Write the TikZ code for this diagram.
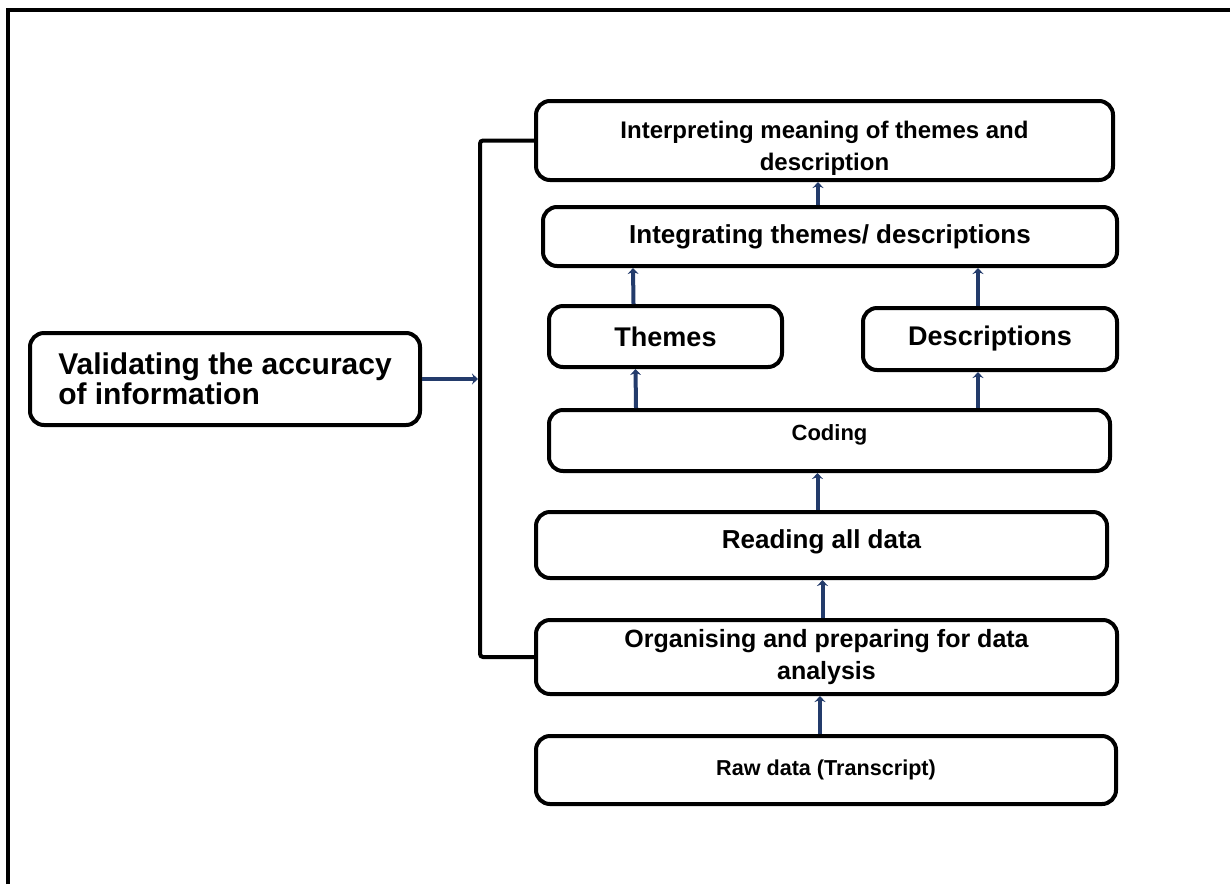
\documentclass[tikz,border=0pt]{standalone}
\usepackage{fontspec}
\setmainfont{Liberation Sans}
\usetikzlibrary{arrows.meta}
\definecolor{arrownavy}{HTML}{233B6B}
\newcommand\boxfnt[1]{\fontsize{#1}{32}\selectfont\bfseries}

\begin{document}
\begin{tikzpicture}[x=1pt,y=-1pt,>={Stealth[length=6pt,width=11pt]},
                    box/.style={draw,line width=4pt,rounded corners=14pt,
                      align=center,inner sep=0pt,font=\boxfnt{26}},
                    flow/.style={->,draw=arrownavy,fill=arrownavy,line width=4pt}]

  \useasboundingbox (0,0) rectangle (1230,884);
  \draw[line width=4pt] (8,884) -- (8,10) -- (1230,10);

  \node[box,minimum width=577pt,minimum height=79pt,font=\boxfnt{24}] (interp) at (824.5,140.5)
       {\rule{0pt}{32pt}Interpreting meaning of themes and\\description};
  \node[box,minimum width=574pt,minimum height=59pt] (integ)   at (830,236.5)
       {Integrating themes/ descriptions};
  \node[box,minimum width=233pt,minimum height=61pt,font=\boxfnt{27}] (themes)  at (665.5,336.5)
       {Themes};
  \node[box,minimum width=254pt,minimum height=62pt,font=\boxfnt{27}] (descr)   at (990,339)
       {Descriptions};
  \node[box,minimum width=561pt,minimum height=61pt,text depth=16pt,font=\boxfnt{22}] (coding) at (829.5,440.5)
       {Coding};
  \node[box,minimum width=571pt,minimum height=66pt,text depth=12pt] (reading) at (821.5,545)
       {Reading all data};
  \node[box,minimum width=581pt,minimum height=74pt,font=\boxfnt{25}] (organ)   at (826.5,657)
       {Organising and preparing for data\\analysis};
  \node[box,minimum width=580pt,minimum height=68pt,font=\boxfnt{21.6}] (raw)   at (826,770)
       {Raw data (Transcript)};
  \node[box,minimum width=390pt,minimum height=92pt,align=left,
        font=\fontsize{30}{30}\selectfont\bfseries] (valid) at (225,379)
       {Validating the accuracy\\of information};

  \coordinate (brk) at (480,379);

  % bracket round the steps
  \draw[line width=4pt,rounded corners=3pt] (interp.west) -| (brk) |- (organ.west);

  % flow upwards
  \draw[flow] ([xshift=-6pt]raw.north)     -- ([xshift=-6pt]organ.south -| raw.north);
  \draw[flow] ([xshift=-4pt]organ.north)   -- ([xshift=-4pt]reading.south -| organ.north);
  \draw[flow] ([xshift=-4pt]reading.north) -- ([xshift=-4pt]coding.south -| reading.north);
  \draw[flow] (coding.north -| 636,0)      -- ([xshift=-30pt]themes.south);
  \draw[flow] (coding.north -| 978,0)      -- ([xshift=-12pt]descr.south);
  \draw[flow] ([xshift=-32pt]themes.north) -- (integ.south -| 633,0);
  \draw[flow] ([xshift=-12pt]descr.north)  -- (integ.south -| 978,0);
  \draw[flow] ([xshift=-12pt]integ.north)  -- (interp.south -| 818,0);
  \draw[flow,shorten >=2pt] (valid.east) -- (brk);
\end{tikzpicture}
\end{document}
